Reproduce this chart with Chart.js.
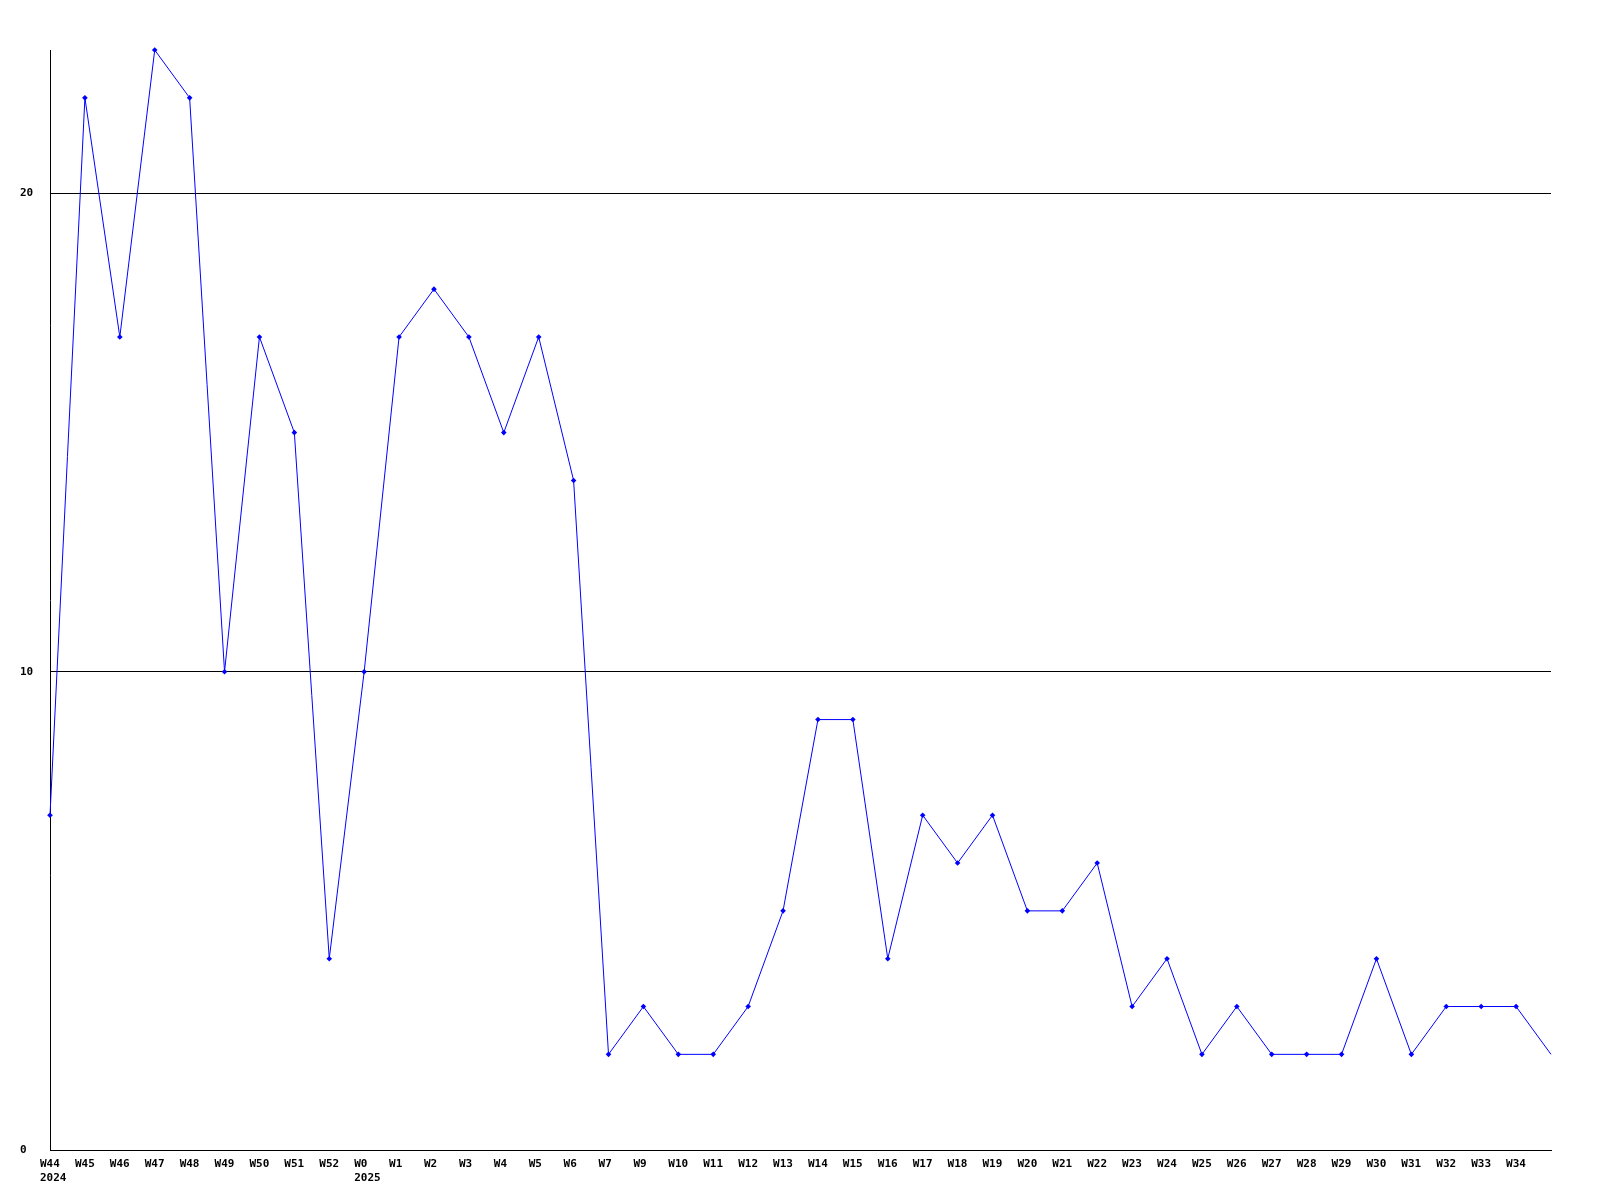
<!DOCTYPE html>
<html>
<head>
<meta charset="utf-8">
<script src="https://cdn.jsdelivr.net/npm/chart.js@4/dist/chart.umd.min.js"></script>
<style>
  body { margin: 0; background: #fff; }
  canvas { display: block; }
</style>
</head>
<body>
<canvas id="mycanvas" width="1600" height="1200"></canvas>
<script>
// weeks shown on the x axis (last one has no visible label)
var weeks = ['W44','W45','W46','W47','W48','W49','W50','W51','W52','W0',
  'W1','W2','W3','W4','W5','W6','W7',
  'W9','W10','W11','W12','W13','W14','W15','W16','W17','W18','W19','W20','W21','W22',
  'W23','W24','W25','W26','W27','W28','W29','W30','W31','W32','W33','W34','W35'];
// year written under the first week of each year
var years = {'W44': '2024', 'W0': '2025'};
var counts = [7,22,17,23,22,10,17,15,4,10,
  17,18,17,15,17,14,2,
  3,2,2,3,5,9,9,4,7,6,7,5,5,6,
  3,4,2,3,2,2,2,4,2,3,3,3,2];
var yTicks = [0, 10, 20];
var yMax = 23;

var font = { family: '"DejaVu Sans Mono", "Liberation Mono", monospace', size: 11, weight: 'bold', lineHeight: 1.2 };

var labels = weeks.map(function(w, i) {
  if (i == weeks.length - 1) return '';
  return years[w] ? [w, years[w]] : w;
});

var ctx = document.getElementById('mycanvas');
var chart = new Chart(ctx, {
  type: 'line',
  data: {
    labels: labels,
    datasets: [{
      data: counts,
      borderColor: '#0000ff',
      backgroundColor: '#0000ff',
      borderWidth: 1,
      pointStyle: 'rectRot',
      // the marker of the last week is cut off in the original
      pointRadius: function(c) { return c.dataIndex == counts.length - 1 ? 0 : 2.8; },
      pointBorderWidth: 0,
      tension: 0,
      fill: false,
      clip: false
    }]
  },
  options: {
    responsive: false,
    animation: false,
    devicePixelRatio: 1,
    layout: { padding: { left: 20, top: 50, right: 49, bottom: 0 } },
    plugins: { legend: { display: false }, tooltip: { enabled: false } },
    scales: {
      x: {
        offset: false,
        grid: { display: false, drawTicks: false },
        border: { color: '#000', width: 1 },
        ticks: {
          color: '#000', font: font, autoSkip: false, maxRotation: 0,
          align: 'start', labelOffset: -10, padding: 8
        },
        afterFit: function(s) { s.height = 50; }
      },
      y: {
        min: 0,
        max: yMax,
        grid: { color: '#000', lineWidth: 1, drawTicks: false },
        border: { color: '#000', width: 1 },
        ticks: {
          color: '#000', font: font, stepSize: 10, includeBounds: false,
          crossAlign: 'far',
          callback: function(v) { return yTicks.indexOf(v) >= 0 ? v : null; }
        },
        afterFit: function(s) { s.width = 30; }
      }
    }
  }
});
</script>
</body>
</html>
